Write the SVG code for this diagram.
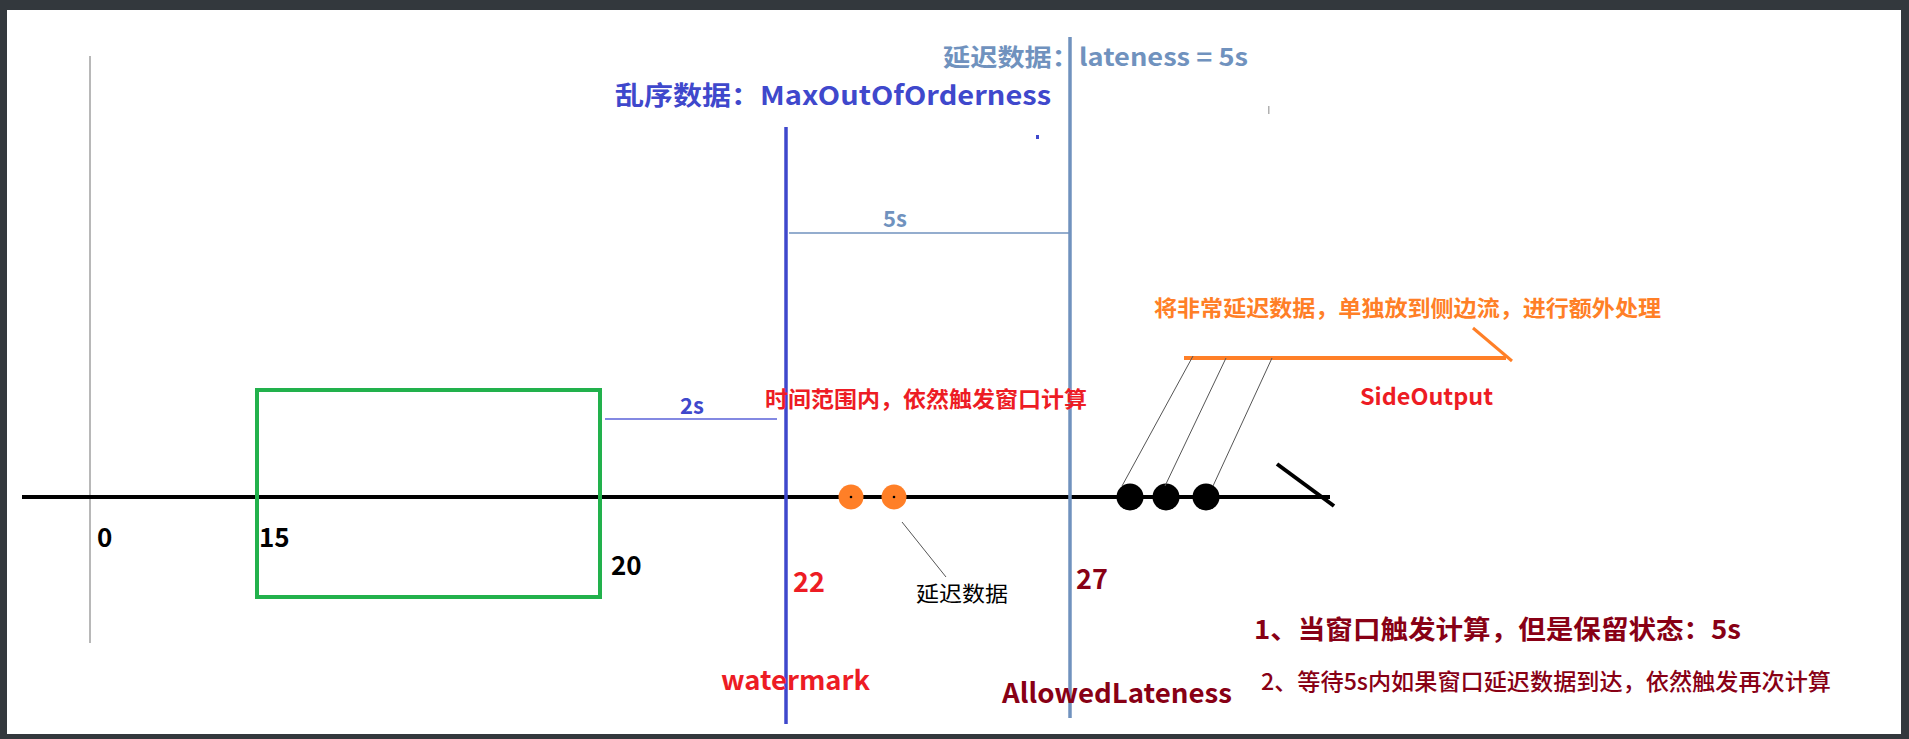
<svg xmlns="http://www.w3.org/2000/svg" width="1909" height="739" viewBox="0 0 1909 739">
<style>
text{font-family:"Noto Sans CJK SC","Noto Sans",sans-serif;font-weight:bold}
.blk{fill:#000}
.red{fill:#ed1c24}
.dred{fill:#880015}
.blue{fill:#3f48cc}
.steel{fill:#7092be}
.org{fill:#ff7f27}
.thin{stroke:#555;stroke-width:1;fill:none}
</style>
<rect x="0" y="0" width="1909" height="739" fill="#33383d"/>
<rect x="7" y="10" width="1894" height="724" fill="#ffffff"/>
<g id="axis">
<line x1="90" y1="56" x2="90" y2="643" stroke="#a0a0a0" stroke-width="1.5"/>
<line x1="22" y1="497" x2="1330" y2="497" stroke="#000" stroke-width="4"/>
<line x1="1277" y1="464" x2="1334" y2="506" stroke="#000" stroke-width="4"/>
<text x="97" y="547" font-size="26" class="blk">0</text>
<text x="259" y="547" font-size="26" class="blk">15</text>
<text x="611" y="575" font-size="26" class="blk">20</text>
</g>
<g id="window">
<rect x="257" y="390" width="343" height="207" fill="none" stroke="#22b14c" stroke-width="4"/>
</g>
<g id="watermark">
<line x1="786" y1="127" x2="786" y2="724" stroke="#3f48cc" stroke-width="3.5"/>
<text x="793" y="592" font-size="27" class="red">22</text>
<text x="721" y="690" font-size="26" class="red" textLength="149" lengthAdjust="spacingAndGlyphs">watermark</text>
<text x="615" y="105" font-size="26" class="blue" textLength="436" lengthAdjust="spacingAndGlyphs">乱序数据：MaxOutOfOrderness</text>
<rect x="1036" y="135" width="3" height="4" fill="#3f48cc"/>
</g>
<g id="allowedLateness">
<line x1="1070" y1="37" x2="1070" y2="718" stroke="#7092be" stroke-width="3.5"/>
<text x="1076" y="589" font-size="27" class="dred">27</text>
<text x="1002" y="703" font-size="27" class="dred" textLength="230" lengthAdjust="spacingAndGlyphs">AllowedLateness</text>
<text x="943" y="66" font-size="24" class="steel" textLength="305" lengthAdjust="spacingAndGlyphs">延迟数据：lateness = 5s</text>
<rect x="1268" y="106" width="1.5" height="8" fill="#b0b0b0"/>
</g>
<g id="gap2s">
<line x1="605" y1="419" x2="777" y2="419" stroke="#5a62d8" stroke-width="1.5"/>
<text x="680" y="414" font-size="22" class="blue">2s</text>
<text x="765" y="407" font-size="22" class="red" textLength="322" lengthAdjust="spacingAndGlyphs">时间范围内，依然触发窗口计算</text>
</g>
<g id="gap5s">
<line x1="789" y1="233" x2="1069" y2="233" stroke="#7092be" stroke-width="1.5"/>
<text x="883" y="227" font-size="22" class="steel">5s</text>
</g>
<g id="lateData">
<ellipse cx="851" cy="497" rx="12.5" ry="12.5" fill="#ff7f27"/>
<ellipse cx="894" cy="497" rx="12.5" ry="12.5" fill="#ff7f27"/>
<circle cx="851" cy="497" r="1.3" fill="#000"/>
<circle cx="894" cy="497" r="1.3" fill="#000"/>
<text x="916" y="601" font-size="21" style="font-weight:normal" class="blk" textLength="92" lengthAdjust="spacingAndGlyphs">延迟数据</text>
</g>
<g id="veryLateData">
<circle cx="1130" cy="497" r="13.5" fill="#000"/>
<circle cx="1166" cy="497" r="13.5" fill="#000"/>
<circle cx="1206" cy="497" r="13.5" fill="#000"/>
</g>
<g id="sideOutput">
<line x1="1184" y1="358" x2="1506" y2="358" stroke="#ff7f27" stroke-width="4"/>
<line x1="1473" y1="328" x2="1512" y2="361" stroke="#ff7f27" stroke-width="3"/>
<text x="1154" y="316" font-size="22" class="org" textLength="507" lengthAdjust="spacingAndGlyphs">将非常延迟数据，单独放到侧边流，进行额外处理</text>
<text x="1360" y="405" font-size="23" class="red" textLength="133" lengthAdjust="spacingAndGlyphs">SideOutput</text>
</g>
<g id="notes">
<text x="1254" y="639" font-size="26" class="dred" textLength="487" lengthAdjust="spacingAndGlyphs">1、当窗口触发计算，但是保留状态：5s</text>
<text x="1261" y="690" font-size="23" class="dred" style="font-weight:500" textLength="570" lengthAdjust="spacingAndGlyphs">2、等待5s内如果窗口延迟数据到达，依然触发再次计算</text>
</g>
<g id="connectors">
<line class="thin" x1="902" y1="522" x2="946" y2="577"/>
<line class="thin" x1="1122" y1="486" x2="1193" y2="356"/>
<line class="thin" x1="1165" y1="486" x2="1226" y2="358"/>
<line class="thin" x1="1213" y1="486" x2="1272" y2="358"/>
</g>
</svg>
